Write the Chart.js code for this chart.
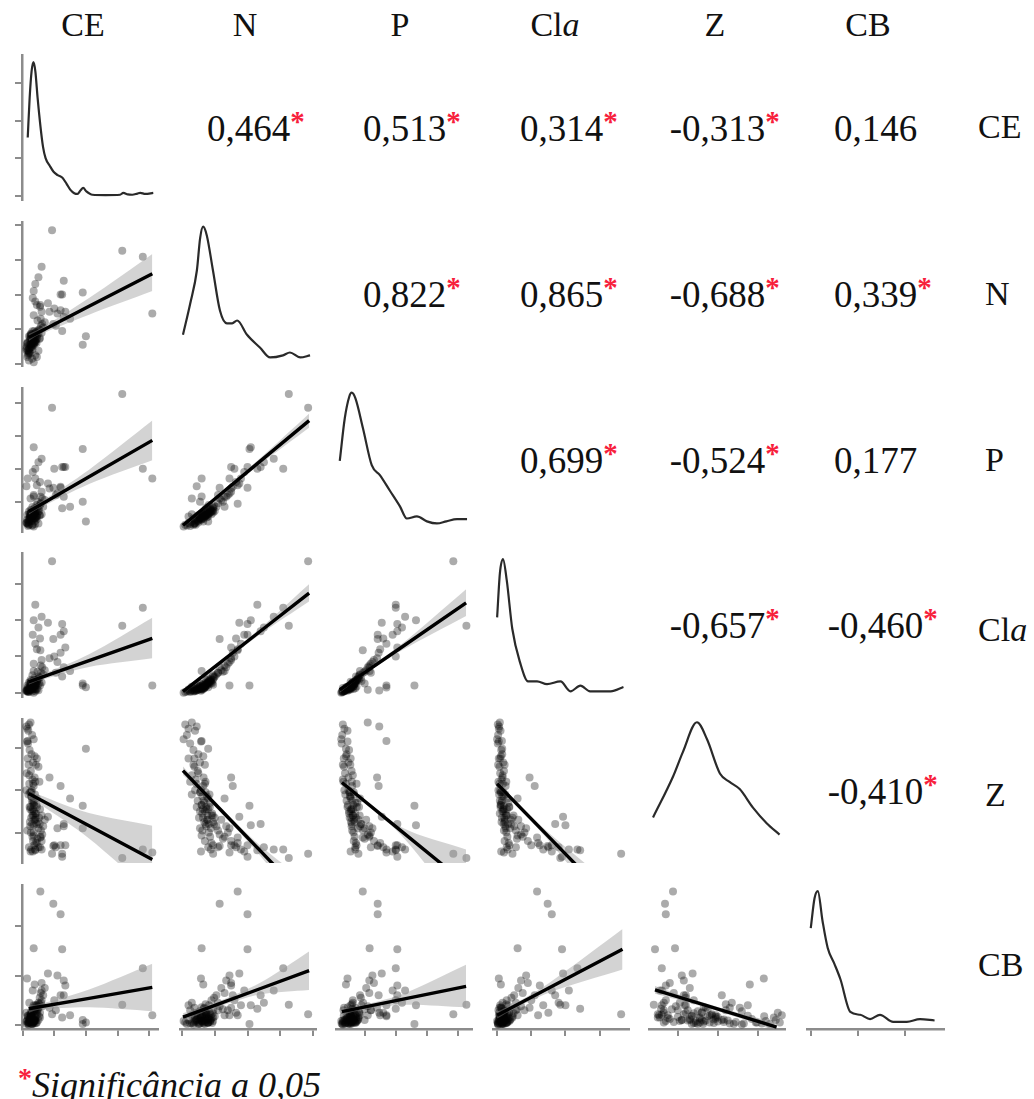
<!DOCTYPE html>
<html>
<head>
<meta charset="utf-8">
<script src="https://cdn.jsdelivr.net/npm/chart.js@4.4.1/dist/chart.umd.min.js"></script>
<style>
  body { margin: 0; background: #fff; }
  #wrap { position: relative; width: 1034px; height: 1099px; font-family: 'Liberation Serif', 'Times New Roman', serif; color: #111; }
  .lbl { position: absolute; font-size: 34px; line-height: 1; white-space: nowrap; }
  .corr { position: absolute; font-size: 37px; line-height: 1; white-space: nowrap; }
  .star { position: absolute; left: 100%; top: -3px; color: #f7203c; font-size: 29px; font-weight: bold; }
  .note { position: absolute; left: 18px; top: 1062px; font-size: 36px; font-style: italic; white-space: nowrap; }
  .note .r { color: #f7203c; font-style: normal; font-weight: bold; font-size: 28px; vertical-align: 10px; }
</style>
</head>
<body>
<div id="wrap"></div>
<script>
const varNames = ['CE', 'N', 'P', 'Cla', 'Z', 'CB'];

const ce = [0.20, 0.15, 0.30, 0.25, 0.35, 0.18, 0.40, 0.22, 0.12, 0.28,
            0.45, 0.33, 0.16, 0.50, 0.26, 0.38, 0.21, 0.14, 0.42, 0.31,
            0.35, 0.28, 0.45, 0.32, 0.55, 0.25, 0.40, 0.60, 0.37, 0.48,
            0.30, 0.52, 0.44, 0.36, 0.65, 0.27, 0.50, 0.34, 0.58, 0.43,
            0.29, 0.70, 0.46, 0.39, 0.62, 0.33, 0.54, 0.41, 0.24, 0.47,
            0.36, 0.53, 0.31, 0.57, 0.26, 0.60, 0.35, 1.00, 0.45, 1.10,
            0.40, 1.20, 0.55, 1.30, 0.32, 0.85, 1.25, 0.40, 0.35, 1.20,
            0.56, 0.97, 0.35, 1.30, 1.90, 1.90, 2.00, 1.50, 1.35, 0.80,
            0.93, 3.15, 3.80, 4.10, 0.60, 0.50, 1.05, 1.25,
            0.18, 0.22, 0.27, 0.15, 0.33, 0.20, 0.25, 0.38, 0.12, 0.29,
            0.24, 0.31, 0.19, 0.36, 0.23, 0.41, 0.17, 0.28, 0.34, 0.21,
            0.26, 0.44, 0.13, 0.30, 0.37, 0.23, 0.32, 0.16, 0.40, 0.27];
const n  = [0.10, 0.20, 0.15, 0.30, 0.05, 0.40, 0.25, 0.35, 0.45, 0.50,
            0.20, 0.55, 0.60, 0.38, 0.48, 0.65, 0.30, 0.58, 0.70, 0.42,
            0.65, 0.72, 0.80, 0.68, 0.75, 0.85, 0.62, 0.90, 0.78, 0.95,
            0.70, 1.00, 0.82, 0.60, 1.05, 0.76, 0.88, 0.66, 1.10, 0.92,
            0.58, 1.20, 0.74, 0.84, 1.15, 0.70, 0.98, 0.64, 0.80, 1.25,
            0.86, 0.72, 0.94, 1.30, 0.55, 1.50, 1.40, 1.60, 1.70, 1.45,
            1.80, 1.55, 1.65, 1.35, 1.90, 1.50, 2.00, 2.30, 2.10, 2.00,
            1.70, 1.15, 0.60, 2.40, 2.06, 0.55, 0.80, 1.30, 1.50, 1.75,
            3.85, 3.26, 3.09, 1.45, 2.80, 2.50, 1.10, 0.95,
            0.30, 0.45, 0.52, 0.62, 0.70, 0.80, 0.58, 0.66, 0.40, 0.48,
            0.74, 0.86, 0.35, 0.55, 0.68, 0.90, 0.25, 0.62, 0.78, 0.44,
            0.82, 0.60, 0.50, 0.72, 0.95, 0.56, 0.64, 0.38, 0.76, 0.88];
const p  = [-0.70, -0.65, -0.72, 0.10, -0.75, -0.55, -0.68, -0.50, 0.47, -0.58,
            -0.45, -0.52, 0.70, -0.66, -0.42, -0.60, -0.38, -0.55, -0.46, -0.70,
            -0.40, -0.35, -0.45, -0.30, -0.42, -0.25, -0.50, -0.38, -0.20, -0.33,
            -0.44, -0.28, -0.10, -0.36, -0.15, -0.47, -0.22, -0.40, -0.05, -0.30,
            -0.52, 0.05, -0.18, -0.34, 0.10, -0.26, -0.12, -0.43, -0.37, 0.00,
            -0.24, -0.41, -0.16, 0.15, -0.48, 0.30, 0.20, 1.00, 0.50, 0.25,
            0.70, 0.45, 0.60, 0.15, 0.90, 0.40, 1.05, 1.00, 1.65, 0.42,
            -0.06, 0.42, 0.16, 1.05, 1.60, 0.00, -0.60, -0.15, 1.05, 0.55,
            2.85, 3.27, 1.00, 0.70, 1.30, 1.20, 0.20, -0.20,
            -0.62, -0.55, -0.48, -0.40, -0.35, -0.30, -0.45, -0.52, -0.65, -0.58,
            -0.42, -0.32, -0.70, -0.50, -0.44, -0.28, -0.74, -0.46, -0.38, -0.60,
            -0.36, -0.54, -0.63, -0.41, -0.26, -0.49, -0.43, -0.67, -0.34, -0.30];
const cla = [0.02, 0.05, 0.03, 0.08, 0.00, 0.10, 0.04, 0.12, 0.06, 0.15,
             0.09, 0.18, 0.14, 0.07, 0.20, 0.11, 0.16, 0.05, 0.22, 0.13,
             0.25, 0.18, 0.30, 0.12, 0.20, 0.35, 0.08, 0.28, 0.40, 0.22,
             0.15, 0.45, 0.32, 0.10, 0.50, 0.19, 0.38, 0.14, 0.55, 0.26,
             0.09, 0.62, 0.36, 0.24, 0.70, 0.17, 0.42, 0.21, 0.29, 0.58,
             0.33, 0.27, 0.48, 0.75, 0.11, 0.90, 0.80, 1.00, 1.20, 0.85,
             1.35, 1.10, 1.50, 0.70, 1.60, 0.95, 1.90, 2.43, 2.00, 1.60,
             1.17, 1.48, 0.60, 1.70, 0.20, 0.25, 0.15, 0.60, 1.25, 1.93,
             3.63, 1.85, 2.35, 0.20, 2.10, 1.80, 0.55, 0.45,
             0.06, 0.10, 0.14, 0.20, 0.22, 0.28, 0.12, 0.16, 0.04, 0.08,
             0.24, 0.30, 0.03, 0.18, 0.13, 0.34, 0.02, 0.15, 0.26, 0.07,
             0.27, 0.11, 0.09, 0.19, 0.36, 0.12, 0.17, 0.05, 0.23, 0.31];
const z  = [2.55, 2.45, 2.30, 2.60, 2.20, 2.40, 1.20, 1.95, 2.50, 1.85,
            1.75, 1.65, 2.16, 1.55, 1.45, 1.80, 1.35, 2.15, 1.60, 1.25,
            1.10, 0.95, 0.80, 0.70, 0.55, 0.60, 0.45, 0.40, 0.30, 0.25,
            0.50, 0.35, 0.20, 0.65, 0.15, 0.85, 0.10, 0.75, 0.05, 0.45,
            1.00, 0.30, 0.60, 0.90, -0.05, 1.15, 0.20, 0.35, 0.55, -0.15,
            0.70, 1.20, 0.40, -0.10, 0.95, -0.20, 0.00, -0.30, -0.25, 0.10,
            -0.40, 1.10, -0.35, 0.15, -0.45, 1.30, -0.57, -0.42, 0.17, -0.30,
            -0.12, -0.32, -0.07, 0.20, 0.63, 0.10, 1.98, 0.80, -0.30, 0.37,
            -0.50, -0.60, -0.40, -0.47, -0.40, -0.35, -0.35, -0.50,
            0.90, 0.60, 0.35, 0.05, -0.20, -0.35, -0.45, 1.30, 1.00, 0.75,
            0.15, -0.10, 1.60, 0.50, 0.25, -0.25, 2.10, 0.85, 0.40, 1.15,
            0.00, 0.65, 1.40, 0.20, -0.30, 0.95, 0.55, 1.75, 0.30, -0.40];
const cb = [0.05, 0.10, 0.02, 0.20, 0.08, 0.15, 0.30, 0.05, 0.25, 0.12,
            0.40, 0.03, 0.18, 0.35, 0.06, 0.82, 0.45, 0.94, 0.28, 0.09,
            0.10, 0.20, 0.05, 0.35, 0.15, 0.25, 0.08, 0.50, 0.12, 0.30,
            0.02, 0.18, 0.40, 0.07, 0.60, 0.22, 0.10, 0.33, 0.45, 0.04,
            0.16, 0.75, 0.26, 0.11, 0.38, 0.06, 0.55, 0.19, 0.13, 0.32,
            0.09, 0.42, 0.24, 0.65, 0.17, 0.85, 0.30, 0.50, 0.20, 1.00,
            0.40, 0.60, 0.25, 0.90, 0.70, 0.35, 1.53, 0.33, 0.40, 2.24,
            2.70, 2.45, 1.55, 0.60, 0.02, 0.10, 0.05, 0.20, 0.80, 1.04,
            0.22, 0.41, 1.15, 0.20, 0.70, 0.45, 0.30, 0.15,
            0.04, 0.10, 0.02, 0.08, 0.12, 0.05, 0.15, 0.03, 0.07, 0.18,
            0.22, 0.06, 0.01, 0.28, 0.09, 0.14, 0.03, 0.20, 0.04, 0.11,
            0.16, 0.36, 0.02, 0.25, 0.08, 0.13, 0.05, 0.19, 0.10, 0.21];
const obs = [ce, n, p, cla, z, cb];

const varMin = [-0.02, -0.06, -0.92, -0.12, -0.72, -0.08];
const varMax = [4.28, 4.09, 3.45, 3.86, 2.68, 2.83];
const varTicks = [[0, 1, 2, 3, 4], [0, 1, 2, 3, 4], [0, 1, 2, 3], [0, 1, 2, 3], [0, 1, 2], [0, 1, 2]];

// top-left density uses its own axis
const ceDensMin = -0.11, ceDensMax = 3.74;
const ceDensTicks = [0, 1, 2, 3];

// density curves (x in variable units, height)
const densX = [
  [0.16, 0.22, 0.28, 0.34, 0.40, 0.47, 0.56, 0.64, 0.72, 0.85, 0.97, 1.10, 1.25, 1.38, 1.50, 1.62, 1.72, 1.82, 1.90, 2.00, 2.19, 2.60, 3.06, 3.16, 3.30, 3.44, 3.60, 3.69, 3.85, 4.10],
  [0.03, 0.25, 0.45, 0.55, 0.64, 0.75, 0.94, 1.15, 1.36, 1.52, 1.67, 1.97, 2.36, 2.67, 3.06, 3.27, 3.58, 3.88],
  [-0.80, -0.64, -0.50, -0.42, -0.30, -0.06, 0.22, 0.48, 0.80, 1.12, 1.34, 1.66, 1.98, 2.30, 2.60, 2.94, 3.26],
  [0.00, 0.08, 0.17, 0.28, 0.44, 0.67, 0.90, 1.16, 1.45, 1.84, 2.13, 2.42, 2.70, 3.30, 3.67],
  [-0.62, -0.12, 0.12, 0.47, 0.72, 1.04, 1.28, 1.53, 1.86, 2.20, 2.52],
  [0.00, 0.08, 0.15, 0.25, 0.36, 0.50, 0.63, 0.84, 1.05, 1.26, 1.47, 1.75, 2.04, 2.32, 2.63]
];
const densY = [
  [1.55, 2.60, 3.30, 3.55, 3.30, 2.60, 1.84, 1.30, 1.00, 0.80, 0.64, 0.55, 0.48, 0.32, 0.16, 0.07, 0.05, 0.15, 0.21, 0.12, 0.03, 0.02, 0.03, 0.08, 0.04, 0.03, 0.06, 0.08, 0.05, 0.08],
  [0.20, 0.42, 0.65, 0.88, 0.96, 0.90, 0.65, 0.37, 0.28, 0.28, 0.30, 0.20, 0.11, 0.04, 0.055, 0.075, 0.04, 0.055],
  [0.48, 0.78, 0.93, 0.96, 0.92, 0.71, 0.45, 0.38, 0.27, 0.16, 0.075, 0.09, 0.055, 0.04, 0.055, 0.07, 0.07],
  [0.54, 0.85, 0.95, 0.80, 0.46, 0.22, 0.09, 0.09, 0.07, 0.09, 0.02, 0.06, 0.02, 0.02, 0.05],
  [0.30, 0.59, 0.76, 0.97, 0.85, 0.61, 0.55, 0.50, 0.37, 0.26, 0.18],
  [0.69, 0.90, 0.95, 0.74, 0.55, 0.44, 0.33, 0.10, 0.08, 0.05, 0.08, 0.03, 0.03, 0.05, 0.04]
];

// linear fits with confidence band, key = row + '' + col
const fits = {
  '10': { x: [0.19, 0.5, 2.1, 4.1], fit: [0.76, 0.906, 1.659, 2.60], hi: [0.86, 0.99, 1.9, 3.17], lo: [0.66, 0.83, 1.42, 2.1] },
  '20': { x: [0.19, 0.5, 2.1, 4.1], fit: [-0.30, -0.129, 0.755, 1.86], hi: [-0.2, -0.05, 0.97, 2.46], lo: [-0.4, -0.21, 0.54, 1.26] },
  '30': { x: [0.19, 0.5, 2.1, 4.1], fit: [0.30, 0.395, 0.886, 1.50], hi: [0.38, 0.46, 1.06, 2.07], lo: [0.22, 0.33, 0.71, 0.95] },
  '40': { x: [0.19, 0.5, 2.1, 4.1], fit: [0.92, 0.796, 0.158, -0.64], hi: [1.03, 0.9, 0.46, 0.16], lo: [0.81, 0.69, -0.14, -1.44] },
  '50': { x: [0.19, 0.5, 2.1, 4.1], fit: [0.33, 0.364, 0.54, 0.76], hi: [0.41, 0.42, 0.72, 1.24], lo: [0.25, 0.31, 0.36, 0.28] },
  '21': { x: [0.03, 0.9, 2.4, 3.88], fit: [-0.72, -0.001, 1.238, 2.46], hi: [-0.63, 0.05, 1.33, 2.67], lo: [-0.81, -0.05, 1.15, 2.25] },
  '31': { x: [0.03, 0.9, 2.4, 3.88], fit: [0.03, 0.645, 1.705, 2.75], hi: [0.1, 0.69, 1.79, 3.0], lo: [-0.04, 0.6, 1.62, 2.52] },
  '41': { x: [0.03, 0.9, 2.4, 3.88], fit: [1.46, 0.762, -0.441, -1.628], hi: [1.56, 0.82, -0.32, -1.2], lo: [1.36, 0.7, -0.56, -2.05] },
  '51': { x: [0.03, 0.9, 2.4, 3.88], fit: [0.16, 0.372, 0.738, 1.10], hi: [0.24, 0.42, 0.86, 1.49], lo: [0.08, 0.32, 0.62, 0.71] },
  '32': { x: [-0.8, -0.2, 1.2, 3.26], fit: [0.08, 0.435, 1.262, 2.48], hi: [0.16, 0.48, 1.35, 2.86], lo: [0.0, 0.39, 1.17, 2.12] },
  '42': { x: [-0.73, -0.3, 1.2, 3.26], fit: [1.18, 0.922, 0.022, -1.214], hi: [1.26, 0.97, 0.12, -0.4], lo: [1.1, 0.87, -0.08, -2.0] },
  '52': { x: [-0.73, -0.3, 1.2, 3.26], fit: [0.27, 0.325, 0.517, 0.78], hi: [0.34, 0.37, 0.62, 1.22], lo: [0.2, 0.28, 0.41, 0.36] },
  '43': { x: [0, 0.5, 1.5, 3.67], fit: [1.15, 0.736, -0.092, -1.889], hi: [1.22, 0.79, 0.0, -1.45], lo: [1.08, 0.68, -0.18, -2.35] },
  '53': { x: [0, 0.5, 1.5, 3.67], fit: [0.2, 0.381, 0.744, 1.53], hi: [0.27, 0.43, 0.84, 1.94], lo: [0.13, 0.33, 0.65, 1.12] },
  '54': { x: [-0.57, 0.5, 1.5, 2.47], fit: [0.71, 0.446, 0.199, -0.04], hi: [0.79, 0.49, 0.25, 0.05], lo: [0.63, 0.40, 0.15, -0.13] }
};

// correlations, upper triangle row by row
const corrText = ['0,464', '0,513', '0,314', '-0,313', '0,146',
                  '0,822', '0,865', '-0,688', '0,339',
                  '0,699', '-0,524', '0,177',
                  '-0,657', '-0,460',
                  '-0,410'];
const corrSig = [true, true, true, true, false,
                 true, true, true, true,
                 true, true, false,
                 true, true,
                 true];

const colX = [22, 180, 336, 493, 649, 807];
const rowY = [55, 221, 387, 552, 718, 884];
const PW = 137, PH = 145;
const axisColor = '#8c8c8c';
const wrap = document.getElementById('wrap');

function axis(min, max, tickVals, show) {
  return {
    type: 'linear', min: min, max: max, display: true,
    afterBuildTicks: function(scale) { scale.ticks = tickVals.map(v => ({ value: v })); },
    ticks: { display: false },
    grid: { drawOnChartArea: false, drawTicks: true, tickLength: 7, lineWidth: 2,
            color: show ? axisColor : 'rgba(0,0,0,0)' },
    border: { display: true, width: 2.5, color: show ? axisColor : 'rgba(0,0,0,0)' }
  };
}

function makePanel(r, c, datasets, yMin, yMax, yTicks) {
  const cv = document.createElement('canvas');
  cv.width = 148; cv.height = 156;
  cv.style.cssText = 'position:absolute;left:' + (colX[c] - 8) + 'px;top:' + (rowY[r] - 3) + 'px;width:148px;height:156px';
  wrap.appendChild(cv);
  new Chart(cv, {
    type: 'scatter',
    data: { datasets: datasets },
    options: {
      responsive: false, animation: false, events: [],
      layout: { padding: { left: 1, right: 3, top: 3, bottom: 1 } },
      plugins: { legend: { display: false }, tooltip: { enabled: false } },
      scales: {
        x: axis(varMin[c], varMax[c], varTicks[c], r === 5),
        y: axis(yMin, yMax, yTicks, c === 0)
      }
    }
  });
}

function xy(xs, ys) { return xs.map((v, i) => ({ x: v, y: ys[i] })); }

let k = 0;
for (let r = 0; r < 6; r++) {
  for (let c = 0; c < 6; c++) {
    if (c > r) {
      const d = document.createElement('div');
      d.className = 'corr';
      d.style.left = (colX[c] + PW / 2) + 'px';
      d.style.top = (rowY[r] + PH / 2) + 'px';
      d.style.transform = 'translate(-50%,-50%)';
      d.innerHTML = corrText[k] + (corrSig[k] ? '<span class="star">*</span>' : '');
      wrap.appendChild(d);
      k++;
    } else if (c === r) {
      const ds = [{
        type: 'line', data: xy(densX[c], densY[c]), borderColor: '#2a2a2a', borderWidth: 2.2,
        pointRadius: 0, fill: false, cubicInterpolationMode: 'monotone'
      }];
      if (r === 0) makePanel(r, c, ds, ceDensMin, ceDensMax, ceDensTicks);
      else makePanel(r, c, ds, -0.02, 1.0, [0.5]);
    } else {
      const f = fits[r + '' + c];
      const ds = [
        { type: 'line', data: xy(f.x, f.fit), borderColor: '#000', borderWidth: 3.4, pointRadius: 0, fill: false, tension: 0 },
        { type: 'line', data: xy(f.x, f.hi), borderColor: 'rgba(0,0,0,0)', borderWidth: 0, pointRadius: 0,
          fill: '+1', backgroundColor: 'rgba(150,150,150,0.42)', tension: 0.3 },
        { type: 'line', data: xy(f.x, f.lo), borderColor: 'rgba(0,0,0,0)', borderWidth: 0, pointRadius: 0, fill: false, tension: 0.3 },
        { type: 'scatter', data: xy(obs[c], obs[r]), pointRadius: 4, backgroundColor: 'rgba(0,0,0,0.33)',
          borderWidth: 0, clip: 8 }
      ];
      makePanel(r, c, ds, varMin[r], varMax[r], varTicks[r]);
    }
  }
}

// column headers and row labels
const labelHtml = ['CE', 'N', 'P', 'Cl<i>a</i>', 'Z', 'CB'];
const headerX = [83, 245, 400, 555, 715, 868];
const rowLabelY = [127, 294, 460, 630, 795, 965];
for (let i = 0; i < 6; i++) {
  const h = document.createElement('div');
  h.className = 'lbl';
  h.style.left = headerX[i] + 'px';
  h.style.top = '25px';
  h.style.transform = 'translate(-50%,-50%)';
  h.innerHTML = labelHtml[i];
  wrap.appendChild(h);

  const s = document.createElement('div');
  s.className = 'lbl';
  s.style.left = (i === 1 || i === 2 || i === 4 ? 985 : 978) + 'px';
  s.style.top = rowLabelY[i] + 'px';
  s.style.transform = 'translateY(-50%)';
  s.innerHTML = labelHtml[i];
  wrap.appendChild(s);
}

const note = document.createElement('div');
note.className = 'note';
note.innerHTML = '<span class="r">*</span>Significância a 0,05';
wrap.appendChild(note);
</script>
</body>
</html>
